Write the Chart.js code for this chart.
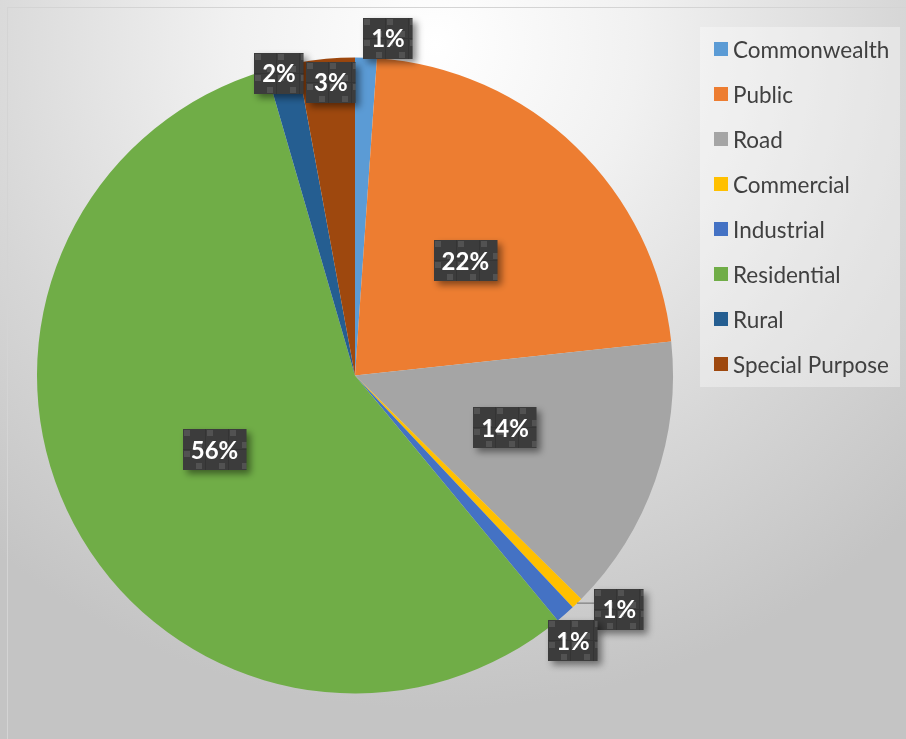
<!DOCTYPE html>
<html>
<head>
<meta charset="utf-8">
<title>Land use share</title>
<script src="https://cdn.jsdelivr.net/npm/chart.js@4.4.1/dist/chart.umd.min.js"></script>
<style>
  html, body { margin: 0; padding: 0; width: 906px; height: 739px; overflow: hidden; }
  body {
    position: relative;
    font-family: Lato, "Open Sans", sans-serif;
    background: radial-gradient(ellipse 75% 90% at 48% 6%, #ffffff 0%, #f1f1f1 30%, #d6d6d6 70%, #c4c4c4 100%);
  }
  #frame {
    position: absolute; left: 7px; top: 7px; width: 920px; height: 760px;
    border: 1px solid #d4d4d4; box-sizing: border-box;
  }
  #chart { position: absolute; left: 0; top: 0; }
  #legend {
    position: absolute; left: 700px; top: 27px; width: 200px; height: 360px;
    background: rgba(255, 255, 255, 0.35);
  }
  .item { position: absolute; left: 14px; height: 24px; display: flex; align-items: center; }
  .swatch { width: 14px; height: 14px; margin-right: 5px; }
  .item span { font-size: 22.5px; color: #404040; white-space: nowrap; }
</style>
</head>
<body>
<div id="frame"></div>
<canvas id="chart" width="906" height="739"></canvas>
<div id="legend"></div>
<script>
// land use categories, share in percent
const categories = ['Commonwealth', 'Public', 'Road', 'Commercial', 'Industrial', 'Residential', 'Rural', 'Special Purpose'];
const shares = [1.1, 22.2, 14.1, 0.6, 1.0, 56.5, 1.6, 2.9];
const colors = ['#5B9BD5', '#ED7D31', '#A5A5A5', '#FFC000', '#4472C4', '#70AD47', '#255E91', '#9E480E'];

// where each value box sits: fraction of radius, angle nudge (deg) from slice middle
const labelSpots = [
  { r: 1.066, da: 3.6 },
  { r: 0.5, da: 0 },
  { r: 0.5, da: 0 },
  { r: 1.11, da: -4.2, leader: true },
  { r: 1.08, da: 2.0 },
  { r: 0.5, da: 0 },
  { r: 0.98, da: -0.8 },
  { r: 0.925, da: 0.5 }
];

// legend
const legend = document.getElementById('legend');
categories.forEach((name, i) => {
  const row = document.createElement('div');
  row.className = 'item';
  row.style.top = (10 + i * 45) + 'px';
  row.innerHTML = `<div class="swatch" style="background:${colors[i]}"></div><span>${name}</span>`;
  legend.appendChild(row);
});

// dark checkered fill used behind the value labels
function makeTile() {
  const t = document.createElement('canvas');
  t.width = 23; t.height = 21;
  const g = t.getContext('2d');
  g.fillStyle = '#3c3c3c';
  g.fillRect(0, 0, 23, 21);
  g.fillStyle = '#343434';
  g.fillRect(22, 0, 1, 21);
  g.fillRect(0, 20, 23, 1);
  g.fillStyle = '#525252';
  g.fillRect(1, 1, 6, 6);
  g.fillRect(13, 13, 6, 6);
  return t;
}
const tile = makeTile();

const valueBoxes = {
  id: 'valueBoxes',
  afterDatasetsDraw(chart) {
    const ctx = chart.ctx;
    const meta = chart.getDatasetMeta(0);
    const data = chart.data.datasets[0].data;
    const total = data.reduce((a, b) => a + b, 0);
    ctx.save();
    ctx.font = 'bold 24px Lato, "Open Sans", sans-serif';
    ctx.textAlign = 'center';
    ctx.textBaseline = 'middle';
    meta.data.forEach((arc, i) => {
      const p = arc.getProps(['x', 'y', 'startAngle', 'endAngle', 'outerRadius'], true);
      const spot = labelSpots[i];
      const mid = (p.startAngle + p.endAngle) / 2;
      const ang = mid + spot.da * Math.PI / 180;
      const cx = p.x + Math.cos(ang) * p.outerRadius * spot.r;
      const cy = p.y + Math.sin(ang) * p.outerRadius * spot.r;
      const text = Math.round(data[i] / total * 100) + '%';
      const w = ctx.measureText(text).width + 16;
      const h = 41;
      const bx = Math.round(cx - w / 2), by = Math.round(cy - h / 2);

      if (spot.leader) {
        const rx = p.x + Math.cos(mid) * p.outerRadius;
        const ry = p.y + Math.sin(mid) * p.outerRadius;
        ctx.strokeStyle = '#8c8c8c';
        ctx.lineWidth = 1.5;
        ctx.beginPath();
        ctx.moveTo(rx, ry);
        ctx.lineTo(bx, ry);
        ctx.stroke();
      }

      const pat = ctx.createPattern(tile, 'repeat');
      pat.setTransform(new DOMMatrix().translate(bx, by));
      ctx.save();
      ctx.shadowColor = 'rgba(0,0,0,0.45)';
      ctx.shadowBlur = 7;
      ctx.shadowOffsetX = 4;
      ctx.shadowOffsetY = 4;
      ctx.fillStyle = pat;
      ctx.fillRect(bx, by, w, h);
      ctx.restore();

      ctx.fillStyle = '#ffffff';
      ctx.fillText(text, cx, cy + 1);
    });
    ctx.restore();
  }
};

new Chart(document.getElementById('chart'), {
  type: 'pie',
  data: {
    labels: categories,
    datasets: [{
      data: shares,
      backgroundColor: colors,
      borderWidth: 0
    }]
  },
  options: {
    responsive: false,
    animation: false,
    layout: { padding: { left: 37, top: 57, right: 233, bottom: 45 } },
    plugins: {
      legend: { display: false },
      tooltip: { enabled: false }
    }
  },
  plugins: [valueBoxes]
});
</script>
</body>
</html>
